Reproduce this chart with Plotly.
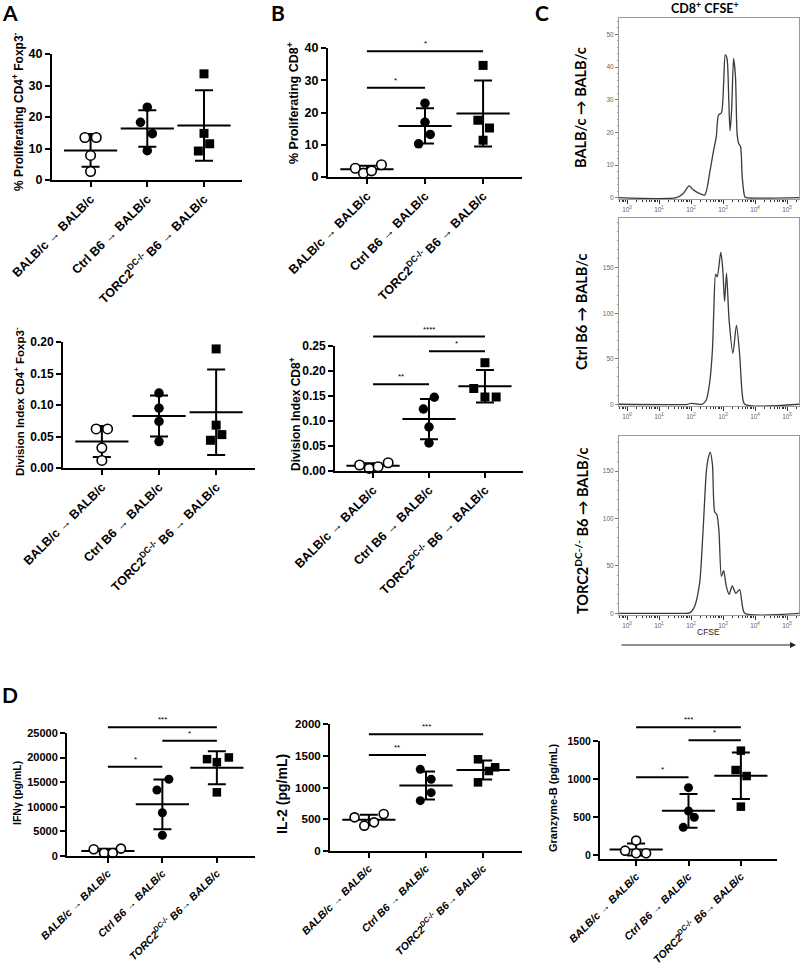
import numpy as np
import plotly.graph_objects as go

W, H = 800, 965

# ---------------- data ----------------
groups_AB = ["BALB/c → BALB/c", "Ctrl B6 → BALB/c", "TORC2<sup>DC-/-</sup> B6 → BALB/c"]
groups_D = ["BALB/c → BALB/c", "Ctrl B6 → BALB/c", "TORC2<sup>DC-/-</sup> B6→ BALB/c"]

a_prolif_cd4 = [[13.5, 13.5, 7.8, 2.7], [23.1, 18.3, 14.7, 9.3], [33.7, 14.8, 11.5, 9.2]]
a_divindex_cd4 = [[0.062, 0.062, 0.032, 0.012], [0.119, 0.095, 0.074, 0.042], [0.189, 0.068, 0.053, 0.044]]
b_prolif_cd8 = [[2.7, 1.2, 1.9, 3.8], [22.9, 17.0, 13.2, 10.3], [34.6, 17.6, 15.2, 11.4]]
b_divindex_cd8 = [[0.012, 0.0053, 0.0086, 0.0165], [0.1475, 0.124, 0.088, 0.056], [0.2166, 0.165, 0.148, 0.148]]
d_ifng = [[1360, 610, 610, 1500], [15600, 13420, 8790, 4220], [19690, 19070, 20030, 12940]]
d_il2 = [[530, 399, 451, 583], [1286, 1129, 919, 793], [1444, 1260, 1318, 1081]]
d_gzmb = [[57, 189, 22, 22], [886, 579, 496, 364], [1373, 1118, 1039, 636]]

# horizontal spread of points (category units) as drawn
jit_a1 = [[-0.1, 0.1, 0, 0], [0, -0.12, 0.09, 0], [0, 0, 0.1, -0.1]]
jit_a2 = [[-0.1, 0.1, 0, 0], [0, 0, 0, 0], [0, 0, 0.1, -0.1]]
jit_b1 = [[-0.2, -0.06, 0.08, 0.25], [0, 0, 0.09, -0.11], [0, -0.09, 0.11, 0]]
jit_b2 = [[-0.24, -0.07, 0.09, 0.27], [0.095, -0.1, 0, 0], [0, -0.2, 0, 0.2]]
jit_d1 = [[-0.26, -0.07, 0.09, 0.24], [0.12, -0.1, 0, 0], [-0.18, 0, 0.22, 0]]
jit_d2 = [[-0.25, -0.08, 0.09, 0.26], [-0.1, 0.09, 0.09, -0.1], [-0.09, 0.1, 0.21, -0.09]]
jit_d3 = [[-0.21, 0, 0, 0.19], [0, 0, 0.11, -0.1], [0, -0.1, 0.11, 0]]

# significance comparisons: (group i, group j, bar height, label)
b_top_sig = [(0, 1, 27.7, "*"), (0, 2, 39.0, "*")]
b_bot_sig = [(0, 1, 0.1735, "**"), (1, 2, 0.2394, "*"), (0, 2, 0.269, "****")]
d_ifng_sig = [(0, 1, 18120, "*"), (1, 2, 23430, "*"), (0, 2, 26160, "***")]
d_il2_sig = [(0, 1, 1512, "**"), (0, 2, 1837, "***")]
d_gzmb_sig = [(0, 1, 1022, "*"), (1, 2, 1509, "*"), (0, 2, 1680, "***")]

# CFSE histograms (log10 CFSE, event count)
h1_logcfse = [-0.25, 1.54, 1.75, 1.94, 2.06, 2.22, 2.43, 2.58, 2.69, 2.79, 2.86, 2.95, 3.02, 3.07, 3.125,
              3.18, 3.22, 3.27, 3.33, 3.39, 3.44, 3.49, 3.55, 3.60, 3.68, 3.73, 5.375]
h1_count = [0, 0, 1.2, 3.6, 2.5, 1.5, 0.8, 7.4, 13.6, 18.7, 25.3, 26, 35, 43.7, 42.6,
            30, 20.5, 26.8, 42.6, 37, 19.7, 16.6, 15.6, 6.4, 0.3, 0, 0]
h2_logcfse = [-0.25, 1.9, 2.0, 2.15, 2.35, 2.48, 2.58, 2.67, 2.71, 2.77, 2.82, 2.93, 2.99, 3.05, 3.11,
              3.19, 3.31, 3.42, 3.52, 3.60, 3.68, 5.375]
h2_count = [0, 0, 1, 0.5, 0, 5, 23, 60, 100, 143, 140, 167, 150, 113, 144,
            93, 56, 87, 55, 12, 0, 0]
h3_logcfse = [-0.25, 1.7, 1.96, 2.11, 2.27, 2.375, 2.48, 2.53, 2.60, 2.67, 2.74, 2.81, 2.875, 2.95, 3.02,
              3.10, 3.19, 3.29, 3.40, 3.52, 3.60, 3.68, 5.375]
h3_count = [0, 0, 0.5, 7, 32, 86, 150, 162, 170, 157, 107, 104, 86, 39, 45,
            29, 20, 29, 21, 25, 9, 0, 0]
hist_rows = ["BALB/c → BALB/c", "Ctrl B6 → BALB/c", "TORC2<sup>DC-/-</sup> B6 → BALB/c"]

# ---------------- helpers ----------------
def dom_x(p0, p1):
    return [p0 / W, p1 / W]

def dom_y(top, bot):
    return [1 - bot / H, 1 - top / H]

fig = go.Figure()
layout = dict(width=W, height=H, margin=dict(l=0, r=0, t=0, b=0, autoexpand=False),
              paper_bgcolor="white", plot_bgcolor="rgba(0,0,0,0)", showlegend=False)
annotations = []

ARIAL = "Liberation Sans"
CAL = "Lato"

marker_styles = [
    dict(symbol="circle", size=9.5, color="white", line=dict(color="black", width=1.6)),
    dict(symbol="circle", size=9.5, color="black", line=dict(color="black", width=0)),
    dict(symbol="square", size=9, color="black", line=dict(color="black", width=0)),
]

AB_LAB = dict(family=ARIAL, size=12.5, color="black", weight="bold")
D_LAB = dict(family=ARIAL, size=10.7, color="black", weight="bold", style="italic")

dot_panels = [
    dict(vals=a_prolif_cd4, jit=jit_a1, px=(52, 242), top=54, bot=180, yr=(0, 40), tv=[0, 10, 20, 30, 40],
         fmt=None, xr=(-0.68, 2.67), labels=groups_AB, lab_font=AB_LAB,
         title="% Proliferating CD4<sup>+</sup> Foxp3<sup>-</sup>", tsize=12, tpos=(18, 112), ytsize=12.5, sig=None, msize=1.0),
    dict(vals=a_divindex_cd4, jit=jit_a2, px=(63, 255), top=342, bot=468, yr=(0, 0.2), tv=[0, 0.05, 0.1, 0.15, 0.2],
         fmt=".2f", xr=(-0.68, 2.68), labels=groups_AB, lab_font=AB_LAB,
         title="Division Index CD4<sup>+</sup> Foxp3<sup>-</sup>", tsize=11.5, tpos=(19, 402), ytsize=12, sig=None, msize=1.0),
    dict(vals=b_prolif_cd8, jit=jit_b1, px=(328, 522), top=48, bot=177, yr=(0, 40), tv=[0, 10, 20, 30, 40],
         fmt=None, xr=(-0.67, 2.67), labels=groups_AB, lab_font=AB_LAB,
         title="% Proliferating CD8<sup>+</sup>", tsize=12.5, tpos=(293, 103), ytsize=12.5, sig=b_top_sig, msize=1.0),
    dict(vals=b_divindex_cd8, jit=jit_b2, px=(335, 523), top=346, bot=471, yr=(0, 0.25), tv=[0, 0.05, 0.1, 0.15, 0.2, 0.25],
         fmt=".2f", xr=(-0.68, 2.68), labels=groups_AB, lab_font=AB_LAB,
         title="Division Index CD8<sup>+</sup>", tsize=12, tpos=(295, 414), ytsize=12, sig=b_bot_sig, msize=1.0),
    dict(vals=d_ifng, jit=jit_d1, px=(67, 255), top=733, bot=856, yr=(0, 25000), tv=[0, 5000, 10000, 15000, 20000, 25000],
         fmt="d", xr=(-0.75, 2.7), labels=groups_D, lab_font=D_LAB,
         title="IFNγ (pg/mL)", tsize=10.5, tpos=(17, 793), ytsize=11, sig=d_ifng_sig, msize=0.95),
    dict(vals=d_il2, jit=jit_d2, px=(330, 522), top=724, bot=851, yr=(0, 2000), tv=[0, 500, 1000, 1500, 2000],
         fmt="d", xr=(-0.68, 2.68), labels=groups_D, lab_font=D_LAB,
         title="IL-2 (pg/mL)", tsize=14, tpos=(282, 794), ytsize=11.5, sig=d_il2_sig, msize=0.95),
    dict(vals=d_gzmb, jit=jit_d3, px=(600, 777), top=741, bot=859, yr=(-53, 1500), tv=[0, 500, 1000, 1500],
         fmt="d", xr=(-0.69, 2.69), labels=groups_D, lab_font=D_LAB,
         title="Granzyme-B (pg/mL)", tsize=11, tpos=(553, 798), ytsize=10.5, sig=d_gzmb_sig, msize=0.95),
]

sig_axis_id = 20
for i, p in enumerate(dot_panels):
    n = i + 1
    xa, ya = f"x{n}", f"y{n}"
    y0, y1 = p["yr"]
    layout[f"xaxis{n}"] = dict(
        domain=dom_x(*p["px"]), range=list(p["xr"]), anchor=ya, automargin=False,
        showline=True, linecolor="black", linewidth=2, showgrid=False, zeroline=False,
        ticks="outside", ticklen=5, tickwidth=2, tickcolor="black",
        tickvals=[0, 1, 2], ticktext=p["labels"], tickangle=-45, tickfont=p["lab_font"])
    yax = dict(
        domain=dom_y(p["top"], p["bot"]), range=[y0, y1], anchor=xa, automargin=False,
        showline=True, linecolor="black", linewidth=2, showgrid=False, zeroline=False,
        ticks="outside", ticklen=5, tickwidth=2, tickcolor="black",
        tickvals=p["tv"], tickfont=dict(family=ARIAL, size=p["ytsize"], color="black", weight="bold"))
    if p["fmt"]:
        yax["tickformat"] = p["fmt"]
    layout[f"yaxis{n}"] = yax

    for g, vals in enumerate(p["vals"]):
        v = np.array(vals, dtype=float)
        m, sd = v.mean(), v.std(ddof=1)
        fig.add_trace(go.Scatter(
            x=[g], y=[m], xaxis=xa, yaxis=ya, mode="markers",
            marker=dict(symbol="line-ew", size=38, color="black", line=dict(color="black", width=2)),
            error_y=dict(type="data", array=[sd], visible=True, color="black", thickness=2, width=9),
            cliponaxis=False, hoverinfo="skip"))
    for g, vals in enumerate(p["vals"]):
        ms = dict(marker_styles[g])
        ms["size"] = ms["size"] * p["msize"]
        fig.add_trace(go.Scatter(
            x=[g + j for j in p["jit"][g]], y=vals, xaxis=xa, yaxis=ya, mode="markers",
            marker=ms, cliponaxis=False))

    annotations.append(dict(text=p["title"], x=p["tpos"][0] / W, y=1 - p["tpos"][1] / H, xref="paper", yref="paper",
                            xanchor="center", yanchor="middle", textangle=-90, showarrow=False,
                            font=dict(family=ARIAL, size=p["tsize"], color="black", weight="bold")))

    if p["sig"]:
        sig_axis_id += 1
        sy = f"y{sig_axis_id}"
        extra = 40
        new_top = p["top"] - extra
        span = (y1 - y0) * (p["bot"] - new_top) / (p["bot"] - p["top"])
        layout[f"yaxis{sig_axis_id}"] = dict(domain=dom_y(new_top, p["bot"]), range=[y0, y0 + span],
                                             anchor=xa, visible=False, showgrid=False, zeroline=False,
                                             automargin=False)
        for (a, b, yy, lab) in p["sig"]:
            fig.add_trace(go.Scatter(x=[a, b], y=[yy, yy], xaxis=xa, yaxis=sy, mode="lines",
                                     line=dict(color="black", width=2), hoverinfo="skip"))
            annotations.append(dict(text=lab, x=(a + b) / 2, y=yy, xref=xa, yref=sy, showarrow=False,
                                    yanchor="bottom", yshift=1,
                                    font=dict(family=ARIAL, size=8, color="black")))

# ---------------- histograms (panel C) ----------------
hists = [
    dict(x=h1_logcfse, y=h1_count, top=18, bot=199, yr=(-0.4, 55), tv=[0, 10, 20, 30, 40, 50], minor=2, lab=(581, 108)),
    dict(x=h2_logcfse, y=h2_count, top=218, bot=406, yr=(-1.9, 204.7), tv=[0, 50, 100, 150], minor=10, lab=(581, 312)),
    dict(x=h3_logcfse, y=h3_count, top=436, bot=615, yr=(-1.8, 187), tv=[0, 50, 100, 150], minor=10, lab=(581, 531)),
]
minor_x = [k + np.log10(m) for k in range(-1, 6) for m in range(2, 10) if -0.25 <= k + np.log10(m) <= 5.375]
for k, h in enumerate(hists):
    n = 8 + k
    xa, ya = f"x{n}", f"y{n}"
    layout[f"xaxis{n}"] = dict(
        domain=dom_x(619, 799), range=[-0.25, 5.375], anchor=ya, automargin=False,
        showline=True, mirror=True, linecolor="#9a9a9a", linewidth=1, showgrid=False, zeroline=False,
        ticks="outside", ticklen=4, tickwidth=1.2, tickcolor="#333",
        tickvals=[0, 1, 2, 3, 4, 5], ticktext=[f"10<sup>{e}</sup>" for e in range(6)],
        tickfont=dict(family=ARIAL, size=6.5, color="#666"),
        minor=dict(tickvals=minor_x, ticks="outside", ticklen=2, tickwidth=1, tickcolor="#333"))
    layout[f"yaxis{n}"] = dict(
        domain=dom_y(h["top"], h["bot"]), range=list(h["yr"]), anchor=xa, automargin=False,
        showline=True, mirror=True, linecolor="#9a9a9a", linewidth=1, showgrid=False, zeroline=False,
        ticks="outside", ticklen=3, tickwidth=1, tickcolor="#777",
        tickvals=h["tv"], tickfont=dict(family=ARIAL, size=6.5, color="#666"),
        minor=dict(dtick=h["minor"], ticks="outside", ticklen=1.5, tickwidth=0.8, tickcolor="#999"))
    fig.add_trace(go.Scatter(x=h["x"], y=h["y"], xaxis=xa, yaxis=ya, mode="lines",
                             line=dict(color="#3a3a3a", width=1.3, shape="spline", smoothing=0.7),
                             hoverinfo="skip"))
    annotations.append(dict(text=hist_rows[k], x=h["lab"][0] / W, y=1 - h["lab"][1] / H, xref="paper", yref="paper",
                            xanchor="center", yanchor="middle", textangle=-90, showarrow=False,
                            font=dict(family=CAL, size=14.5, color="black", weight="bold")))

annotations.append(dict(text="CD8<sup>+</sup> CFSE<sup>+</sup>", x=705 / W, y=1 - 7 / H, xref="paper", yref="paper",
                        xanchor="center", yanchor="middle", showarrow=False,
                        font=dict(family=CAL, size=12.5, color="black", weight="bold")))
annotations.append(dict(text="CFSE", x=708 / W, y=1 - 632 / H, xref="paper", yref="paper",
                        xanchor="center", yanchor="middle", showarrow=False,
                        font=dict(family=ARIAL, size=8.5, color="#222")))
annotations.append(dict(text="", x=796 / W, y=1 - 645 / H, ax=-176, ay=0,
                        xref="paper", yref="paper", axref="pixel", ayref="pixel",
                        showarrow=True, arrowhead=2, arrowsize=1, arrowwidth=1.2, arrowcolor="#222"))

for letter, (px, py) in {"A": (10, 13), "B": (278, 13), "C": (542, 13), "D": (10, 694)}.items():
    annotations.append(dict(text=letter, x=px / W, y=1 - py / H, xref="paper", yref="paper",
                            xanchor="center", yanchor="middle", showarrow=False,
                            font=dict(family=CAL, size=21, color="black", weight="bold")))

layout["annotations"] = annotations
fig.update_layout(**layout)
fig.write_html("out.html", config={"displayModeBar": False},
               post_script="document.body.style.margin='0';document.body.style.padding='0';")
